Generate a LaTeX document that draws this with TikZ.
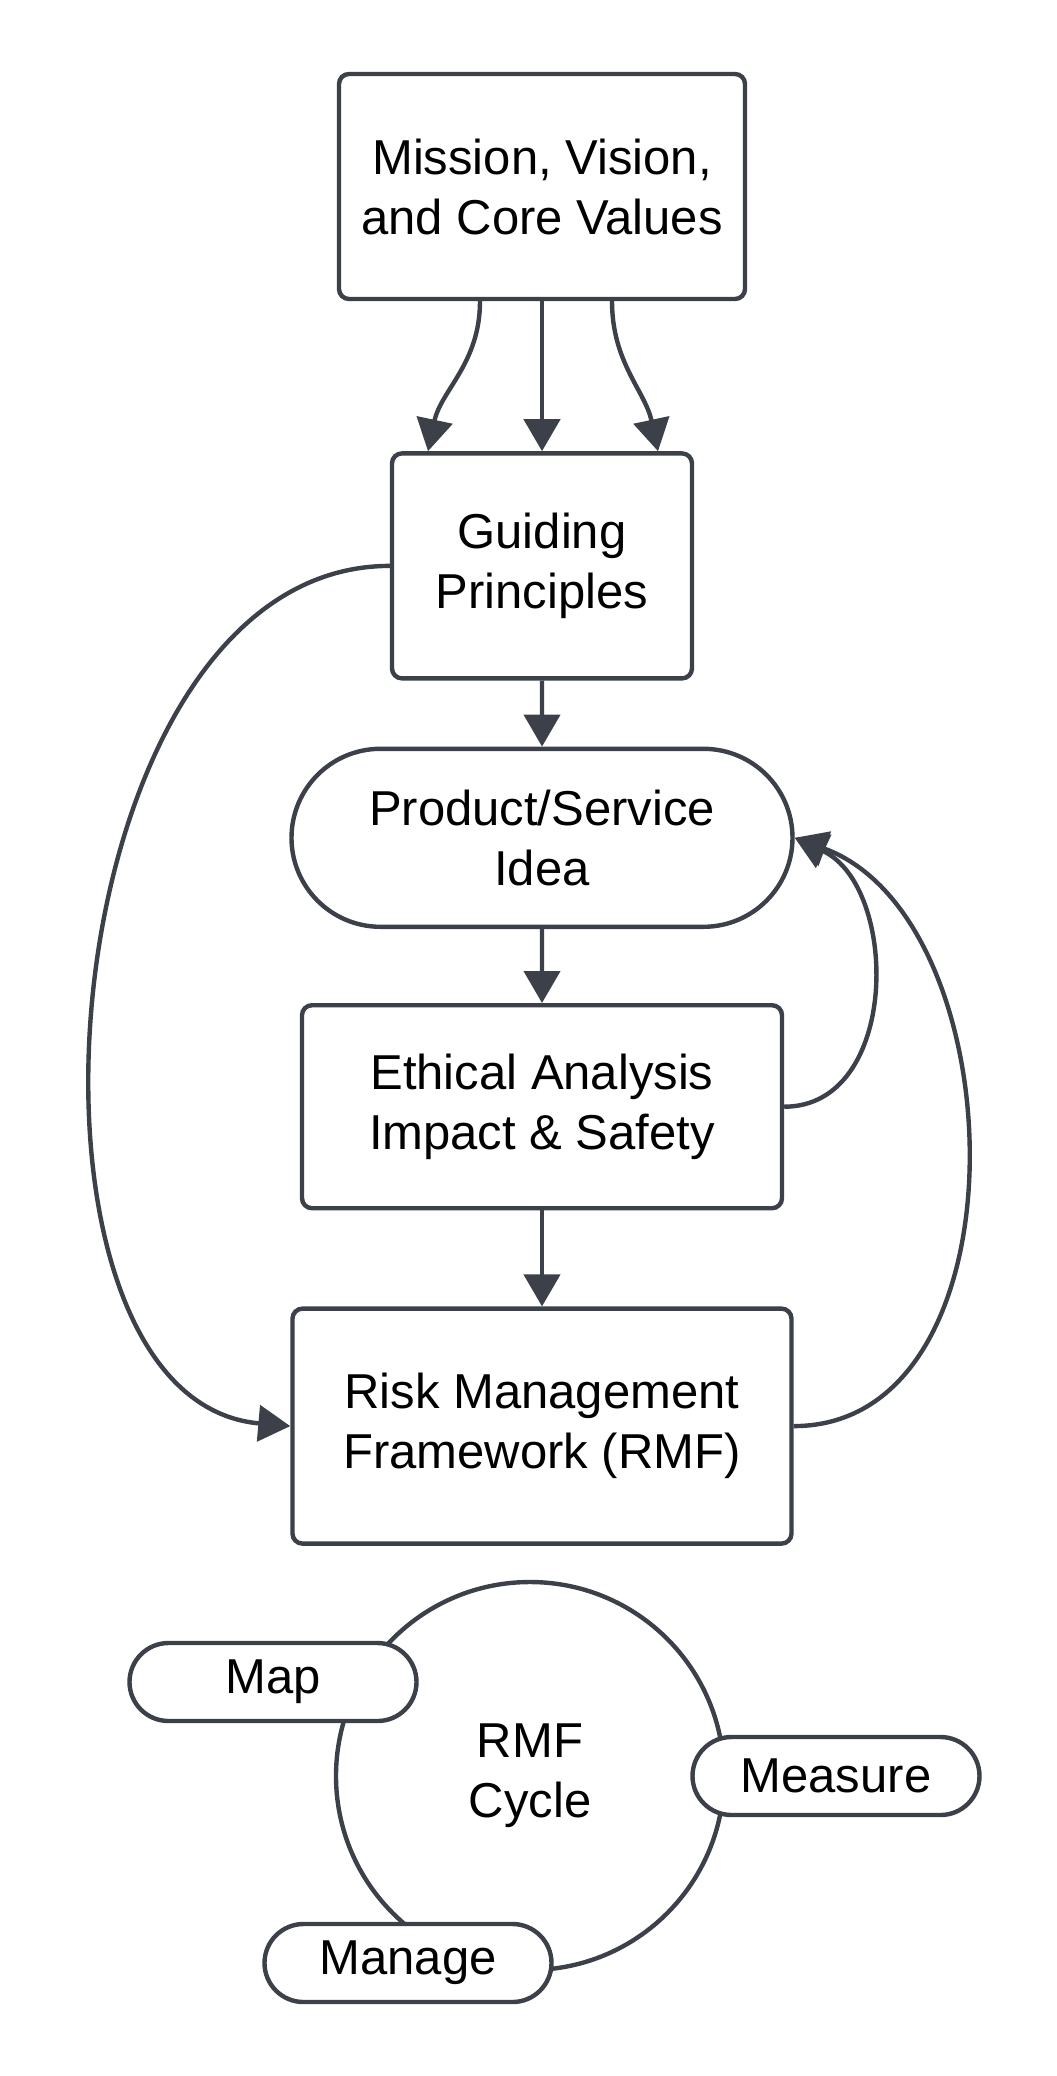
\documentclass[tikz,border=0pt]{standalone}
\usepackage{fontspec}
\setmainfont{Liberation Sans}
\usetikzlibrary{positioning,arrows.meta,shapes.misc}
\definecolor{ink}{RGB}{59,64,73}
\tikzset{
  line/.style={-{Triangle[length=16pt,width=18pt]}, draw=ink, line width=2.2pt},
  box/.style={draw=ink, line width=2.2pt, rounded corners=5pt, align=center, fill=white,
    inner sep=3pt, font=\fontsize{24.5pt}{30pt}\selectfont},
  pill/.style={box, rounded rectangle, sharp corners},
  tagpill/.style={pill, minimum width=149.5pt, minimum height=39pt},
  ring/.style={circle, draw=ink, line width=2.2pt, align=center, minimum size=194pt,
    font=\fontsize{24.5pt}{30pt}\selectfont}
}
\begin{document}
\begin{tikzpicture}
  \useasboundingbox (0,0) rectangle (528pt,-1038pt);

  \node[box, minimum width=203pt, minimum height=112.5pt] (mission) at (271pt,-93.25pt) {Mission, Vision,\\and Core Values};
  \node[box, minimum width=150pt, minimum height=112.5pt, below=75pt of mission] (guiding) {Guiding\\Principles};
  \node[pill, minimum width=256.5pt, minimum height=89pt, below=33pt of guiding] (idea) {Product/Service\\Idea};
  \node[box, minimum width=240pt, minimum height=101.5pt, below=37pt of idea] (ethics) {Ethical Analysis\\Impact \& Safety};
  \node[box, minimum width=249.5pt, minimum height=117.5pt, below=48pt of ethics] (rmf) {Risk Management\\Framework (RMF)};

  % RMF cycle
  \node[ring, below=17pt of rmf, xshift=-6pt] (cycle) {RMF\\Cycle};
  \node[tagpill] (map) at ([shift={(-128.5pt,47pt)}]cycle.center) {Map};
  \node[tagpill] (measure) at ([shift={(153pt,0pt)}]cycle.center) {Measure};
  \node[tagpill] (manage) at ([shift={(-61pt,-93.5pt)}]cycle.center) {Manage};

  \draw[line] ([xshift=-31pt]mission.south) to[out=-90,in=78] ([xshift=-57pt]guiding.north);
  \draw[line] (mission.south) -- (guiding.north);
  \draw[line] ([xshift=35pt]mission.south) to[out=-90,in=102] ([xshift=58pt]guiding.north);
  \draw[line] (guiding) -- (idea);
  \draw[line] (idea) -- (ethics);
  \draw[line] (ethics) -- (rmf);

  % feedback loops
  \draw[line] (guiding.west) to[out=180,in=175,out distance=172pt,in distance=152pt] (rmf.west);
  \draw[line] (ethics.east) to[out=0,in=-25,looseness=1.1] (idea.east);
  \draw[line] (rmf.east) to[out=0,in=-20,looseness=1.03] (idea.east);
\end{tikzpicture}
\end{document}
